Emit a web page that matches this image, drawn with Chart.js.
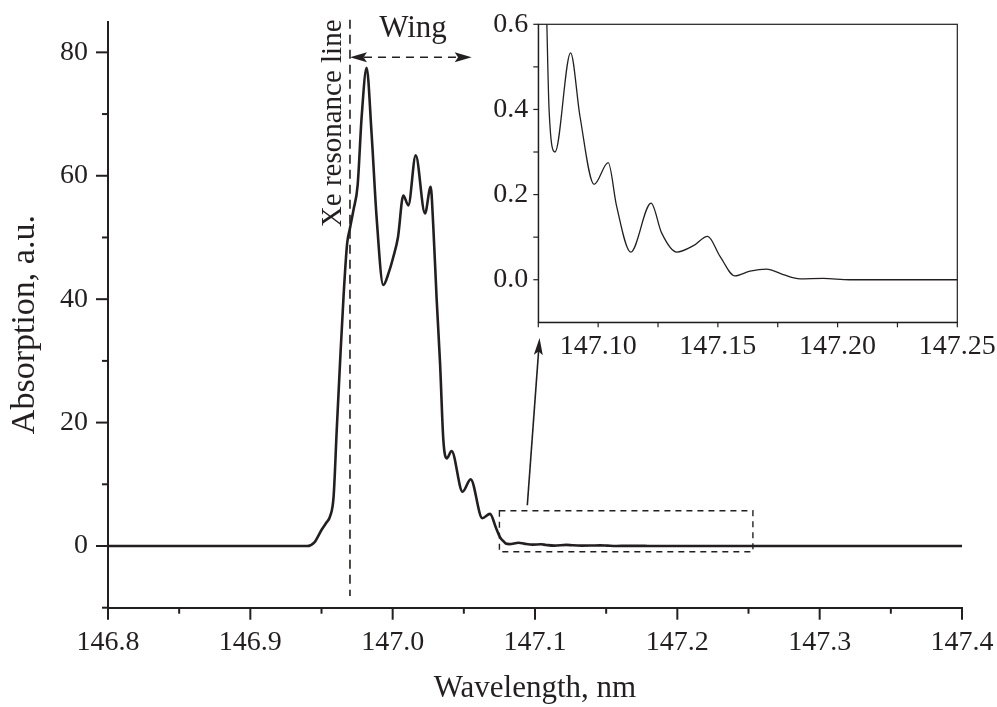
<!DOCTYPE html>
<html>
<head>
<meta charset="utf-8">
<script src="https://cdn.jsdelivr.net/npm/chart.js@4.4.1/dist/chart.umd.min.js"></script>
<style>
  html, body { margin: 0; padding: 0; background: #fff; }
  #wrap { position: relative; width: 997px; height: 707px; }
  #main { position: absolute; left: 0; top: 0; }
  #inset { position: absolute; left: 480px; top: 0; }
</style>
</head>
<body>
<div id="wrap">
  <canvas id="main" width="997" height="707"></canvas>
  <canvas id="inset" width="517" height="370"></canvas>
</div>
<script>
// spectrum
const wavelength = [146.80, 146.94, 146.945, 146.950, 146.9535, 146.956, 146.9585, 146.9607, 146.963, 146.9655,
  146.968, 146.970, 146.9725, 146.9754, 146.9782, 146.9817, 146.9852, 146.9887, 146.9934, 146.9975,
  147.0004, 147.0037, 147.0075, 147.0110, 147.0162, 147.0227, 147.0267, 147.0285, 147.0309, 147.0333,
  147.0356, 147.0380, 147.0414, 147.0491, 147.0548, 147.0630, 147.0684, 147.0725, 147.0755, 147.0785,
  147.0795, 147.0820, 147.0885, 147.0924, 147.0983, 147.1042, 147.1077, 147.1136, 147.1221, 147.1265,
  147.1328, 147.1398, 147.1457, 147.1509, 147.1571, 147.1634, 147.1703, 147.1773, 147.1843, 147.1940,
  147.2050, 147.2500, 147.4000];
const absorption = [0, 0, 0.6, 2.6, 3.8, 4.8, 8, 18.8, 29.6, 40.5,
  49, 51.5, 54.5, 58.5, 69.5, 77.5, 66.8, 53.3, 42.3, 44.5,
  46.8, 50, 56.8, 55.2, 63.3, 53.9, 58.2, 52, 40, 29.6,
  17.2, 14.2, 15.4, 8.8, 10.8, 4.5, 5.2, 3.0, 1.4, 0.62,
  0.40, 0.30, 0.533, 0.384, 0.224, 0.275, 0.173, 0.065, 0.18, 0.11,
  0.065, 0.08, 0.102, 0.055, 0.009, 0.02, 0.025, 0.012, 0.002, 0.003,
  0, 0, 0];

const xTicks = [146.8, 146.9, 147.0, 147.1, 147.2, 147.3, 147.4];
const xMinor = [146.85, 146.95, 147.05, 147.15, 147.25, 147.35];
const yTicks = [0, 20, 40, 60, 80];
const yMinor = [-10, 10, 30, 50, 70];

const insetXTicks = [147.10, 147.15, 147.20, 147.25];
const insetXMinor = [147.075, 147.125, 147.175, 147.225];
const insetYTicks = [0, 0.2, 0.4, 0.6];
const insetYMinor = [0.1, 0.3, 0.5];

const resonance = 146.970;   // Xe resonance line
const wingEnd = 147.0555;
const wingLevel = 79.2;
const zoomBox = [147.075, 147.2531, -0.93, 5.7];

const ink = '#231f20';
const serif = '"Liberation Serif", "Times New Roman", serif';

const points = wavelength.map((w, i) => ({ x: w, y: absorption[i] }));

function line(ctx, x1, y1, x2, y2) {
  ctx.beginPath(); ctx.moveTo(x1, y1); ctx.lineTo(x2, y2); ctx.stroke();
}
function arrowHead(ctx, tx, ty, dx, dy, len, half) {
  const n = Math.hypot(dx, dy); dx /= n; dy /= n;
  ctx.beginPath();
  ctx.moveTo(tx, ty);
  ctx.lineTo(tx - len * dx - half * dy, ty - len * dy + half * dx);
  ctx.lineTo(tx - len * dx * 0.8, ty - len * dy * 0.8);
  ctx.lineTo(tx - len * dx + half * dy, ty - len * dy - half * dx);
  ctx.closePath(); ctx.fill();
}
function drawTicks(ctx, scale, values, len) {
  values.forEach(v => {
    const p = scale.getPixelForValue(v);
    if (scale.isHorizontal()) line(ctx, p, scale.top, p, scale.top + len);
    else line(ctx, scale.right - len, p, scale.right, p);
  });
}
function fixSize(w, h) {
  return s => {
    if (w !== undefined) s.width = w;
    if (h !== undefined) s.height = h;
    s.paddingLeft = 0; s.paddingRight = 0; s.paddingTop = 0; s.paddingBottom = 0;
  };
}

const mainDecor = {
  id: 'mainDecor',
  afterDraw(chart) {
    const { ctx, scales: { x, y } } = chart;
    const px = v => x.getPixelForValue(v), py = v => y.getPixelForValue(v);
    ctx.save();
    ctx.strokeStyle = ink; ctx.fillStyle = ink;
    ctx.lineWidth = 2;
    drawTicks(ctx, x, xTicks, 12); drawTicks(ctx, x, xMinor, 6);
    drawTicks(ctx, y, yTicks, 12); drawTicks(ctx, y, yMinor, 6);

    // resonance line
    ctx.lineWidth = 1.6; ctx.setLineDash([9, 6]);
    line(ctx, px(resonance), py(85.3), px(resonance), py(-8.1));

    // wing arrow
    ctx.setLineDash([8, 6]);
    line(ctx, px(resonance) + 14, py(wingLevel), px(wingEnd) - 14, py(wingLevel));
    ctx.setLineDash([]);
    arrowHead(ctx, px(resonance), py(wingLevel), -1, 0, 17, 5);
    arrowHead(ctx, px(wingEnd), py(wingLevel), 1, 0, 17, 5);

    // zoom box
    ctx.lineWidth = 1.4; ctx.setLineDash([6, 5]);
    ctx.strokeRect(px(zoomBox[0]), py(zoomBox[3]), px(zoomBox[1]) - px(zoomBox[0]), py(zoomBox[2]) - py(zoomBox[3]));
    ctx.setLineDash([]);

    // arrow to inset
    const ax1 = px(147.0946), ay1 = py(6.6), ax2 = px(147.1032), ay2 = py(33.7);
    ctx.lineWidth = 1.6;
    line(ctx, ax1, ay1, ax2 - (ax2 - ax1) * 0.06, ay2 - (ay2 - ay1) * 0.06);
    arrowHead(ctx, ax2, ay2, ax2 - ax1, ay2 - ay1, 17, 4.5);

    // labels
    ctx.textAlign = 'center'; ctx.textBaseline = 'alphabetic';
    ctx.font = '31px ' + serif;
    ctx.fillText('Wing', px(147.0143), py(82.5));

    ctx.save();
    ctx.font = '29px ' + serif;
    ctx.translate(px(146.9637), py(68.5));
    ctx.rotate(-Math.PI / 2);
    ctx.fillText('Xe resonance line', 0, 0);
    ctx.restore();

    // y axis title
    ctx.font = '34px ' + serif;
    ctx.translate(33.5, (y.top + y.bottom) / 2 + 10);
    ctx.rotate(-Math.PI / 2);
    ctx.fillText('Absorption, a.u.', 0, 0);
    ctx.restore();
  }
};

const insetDecor = {
  id: 'insetDecor',
  afterDraw(chart) {
    const { ctx, chartArea: a, scales: { x, y } } = chart;
    ctx.save();
    ctx.strokeStyle = ink; ctx.lineWidth = 1.2;
    ctx.strokeRect(a.left, a.top, a.right - a.left, a.bottom - a.top);
    drawTicks(ctx, x, insetXTicks, 5); drawTicks(ctx, x, insetXMinor, 5);
    drawTicks(ctx, y, insetYTicks, 5); drawTicks(ctx, y, insetYMinor, 5);
    ctx.restore();
  }
};

const tickFont = { family: serif, size: 28 };

new Chart(document.getElementById('main'), {
  type: 'line',
  data: {
    datasets: [{
      data: points,
      borderColor: ink,
      borderWidth: 2.6,
      pointRadius: 0,
      cubicInterpolationMode: 'monotone',
      fill: false
    }]
  },
  options: {
    responsive: false,
    animation: false,
    events: [],
    layout: { padding: { top: 21.5, right: 35, left: 0, bottom: 0 } },
    plugins: { legend: { display: false }, tooltip: { enabled: false } },
    scales: {
      x: {
        type: 'linear', min: 146.8, max: 147.4,
        afterBuildTicks: s => { s.ticks = xTicks.map(v => ({ value: v })); },
        afterFit: fixSize(undefined, 99.3),
        grid: { display: false, drawTicks: false },
        border: { display: true, color: ink, width: 2 },
        ticks: { color: ink, font: tickFont, padding: 18, maxRotation: 0, autoSkip: false,
                 callback: v => Number(v).toFixed(1) },
        title: { display: true, text: 'Wavelength, nm', color: ink,
                 font: { family: serif, size: 31 }, padding: { top: 0, bottom: 0 } }
      },
      y: {
        type: 'linear', min: -10, max: 85,
        afterBuildTicks: s => { s.ticks = yTicks.map(v => ({ value: v })); },
        afterFit: fixSize(108, undefined),
        grid: { display: false, drawTicks: false },
        border: { display: true, color: ink, width: 2 },
        ticks: { color: ink, font: tickFont, padding: 20, autoSkip: false,
                 callback: v => String(v) }
      }
    }
  },
  plugins: [mainDecor]
});

new Chart(document.getElementById('inset'), {
  type: 'line',
  data: {
    datasets: [{
      data: points,
      borderColor: ink,
      borderWidth: 1.3,
      pointRadius: 0,
      cubicInterpolationMode: 'monotone',
      fill: false
    }]
  },
  options: {
    responsive: false,
    animation: false,
    events: [],
    layout: { padding: { top: 24.3, right: 39.7, left: 0, bottom: 0 } },
    plugins: { legend: { display: false }, tooltip: { enabled: false } },
    scales: {
      x: {
        type: 'linear', min: 147.075, max: 147.25,
        afterBuildTicks: s => { s.ticks = insetXTicks.map(v => ({ value: v })); },
        afterFit: fixSize(undefined, 47.7),
        grid: { display: false, drawTicks: false },
        border: { display: true, color: ink, width: 1.2 },
        ticks: { color: ink, font: tickFont, padding: 8, maxRotation: 0, autoSkip: false,
                 callback: v => Number(v).toFixed(2) }
      },
      y: {
        type: 'linear', min: -0.1, max: 0.6,
        afterBuildTicks: s => { s.ticks = insetYTicks.map(v => ({ value: v })); },
        afterFit: fixSize(58.3, undefined),
        grid: { display: false, drawTicks: false },
        border: { display: true, color: ink, width: 1.2 },
        ticks: { color: ink, font: tickFont, padding: 10, autoSkip: false,
                 callback: v => Number(v).toFixed(1) }
      }
    }
  },
  plugins: [insetDecor]
});
</script>
</body>
</html>
